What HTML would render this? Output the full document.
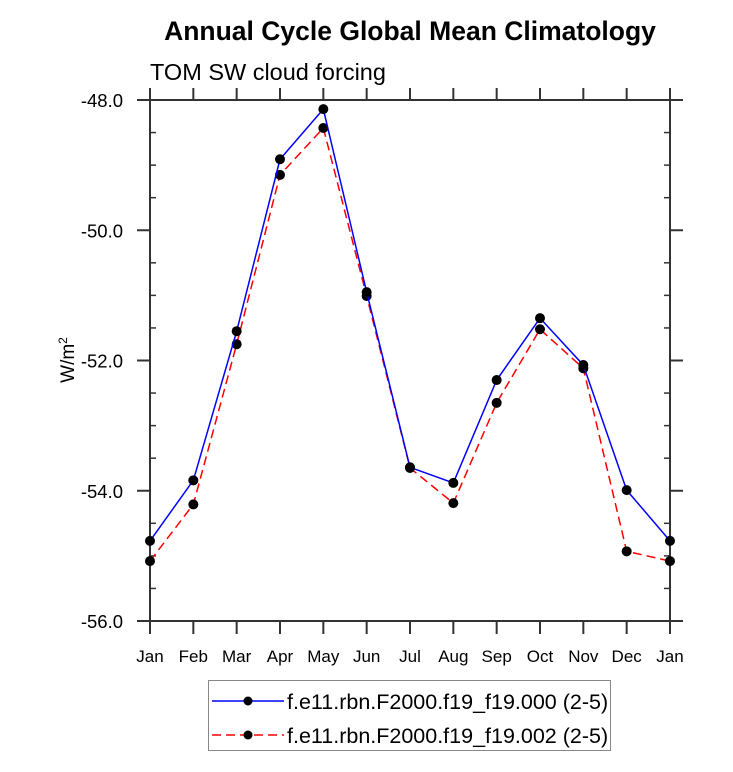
<!DOCTYPE html>
<html><head><meta charset="utf-8"><style>
body{margin:0;background:#fff;}
svg{display:block;font-family:"Liberation Sans",Arial,sans-serif;}
</style></head><body>
<svg id="chart" width="733" height="772" viewBox="0 0 733 772">
<text x="410" y="40" text-anchor="middle" font-size="26.5" font-weight="bold">Annual Cycle Global Mean Climatology</text>
<text x="150" y="80" font-size="23.5">TOM SW cloud forcing</text>
<text transform="translate(74,360) rotate(-90)" text-anchor="middle" font-size="19">W/m<tspan dy="-7" font-size="12">2</tspan></text>
<g id="axes"></g>
<g id="series"></g>
<g>
<rect x="208.5" y="680.5" width="402" height="70" fill="#fff" stroke="#888" stroke-width="1"/>
<g>
<line x1="212" y1="701" x2="284" y2="701" stroke="#0000ff" stroke-width="1.5"/>
<circle cx="248" cy="701" r="4.5" fill="#000"/>
<text x="287" y="709" font-size="21.5">f.e11.rbn.F2000.f19_f19.000 (2-5)</text>
</g>
<g>
<line x1="212" y1="735" x2="284" y2="735" stroke="#ff0000" stroke-width="1.5" stroke-dasharray="9,5"/>
<circle cx="248" cy="735" r="4.5" fill="#000"/>
<text x="287" y="743" font-size="21.5">f.e11.rbn.F2000.f19_f19.002 (2-5)</text>
</g>
</g>
</svg>
<script>
const months=["Jan","Feb","Mar","Apr","May","Jun","Jul","Aug","Sep","Oct","Nov","Dec","Jan"];
const series000=[-54.77,-53.84,-51.55,-48.91,-48.14,-50.95,-53.64,-53.88,-52.30,-51.35,-52.07,-53.99,-54.77];
const series002=[-55.08,-54.21,-51.75,-49.15,-48.43,-51.01,-53.65,-54.19,-52.65,-51.52,-52.12,-54.93,-55.08];
const yTicks=[-48,-50,-52,-54,-56];
const yTickLabels=["-48.0","-50.0","-52.0","-54.0","-56.0"];
const yMin=-56,yMax=-48;
const L=150,R=670,T=100,B=621;
const NS="http://www.w3.org/2000/svg";
function x(i){return L+(R-L)*i/(months.length-1);}
function y(v){return B-(v-yMin)/(yMax-yMin)*(B-T);}
function mk(tag,attrs,parent){const e=document.createElementNS(NS,tag);for(const k in attrs)e.setAttribute(k,attrs[k]);parent.appendChild(e);return e;}
const ax=document.getElementById('axes');
const fr=mk('rect',{x:L,y:T,width:R-L,height:B-T,fill:'none',stroke:'#333','stroke-width':2},ax);


months.forEach((m,i)=>{
  const t1=mk('line',{x1:x(i),y1:B,x2:x(i),y2:B+13,stroke:'#333','stroke-width':2},ax);
  
  
  const t2=mk('line',{x1:x(i),y1:T,x2:x(i),y2:T-12,stroke:'#333','stroke-width':2},ax);
  
  
  const tx=mk('text',{x:x(i),y:B+41,'text-anchor':'middle','font-size':17},ax);
  tx.textContent=m;
  
  
});
for(let v=yMin;v<=yMax+1e-9;v+=0.5){
  const major=Math.abs(v-Math.round(v/2)*2)<1e-9;
  if(major)continue;
  const a=mk('line',{x1:L,y1:y(v),x2:L+6,y2:y(v),stroke:'#333','stroke-width':1.5},ax);
  
  
  const b=mk('line',{x1:R,y1:y(v),x2:R-6,y2:y(v),stroke:'#333','stroke-width':1.5},ax);
  
  
}
yTicks.forEach((v,i)=>{
  const a=mk('line',{x1:L-13,y1:y(v),x2:L,y2:y(v),stroke:'#333','stroke-width':2},ax);
  
  
  const b=mk('line',{x1:R,y1:y(v),x2:R+13,y2:y(v),stroke:'#333','stroke-width':2},ax);
  
  
  const t=mk('text',{x:L-27,y:y(v)+7,'text-anchor':'end','font-size':18.5},ax);
  t.textContent=yTickLabels[i];
  
  
});
const sg=document.getElementById('series');
function draw(vals,color,dash,name){
  const g=mk('g',{},sg);
  
  
  const p=mk('polyline',{points:vals.map((v,i)=>x(i)+','+y(v)).join(' '),fill:'none',stroke:color,'stroke-width':1.5},g);
  if(dash)p.setAttribute('stroke-dasharray',dash);
  
  
  vals.forEach((v,i)=>{
    const c=mk('circle',{cx:x(i),cy:y(v),r:5,fill:'#000'},g);
    
    
  });
}
draw(series002,'#ff0000','9,5','series-002');
draw(series000,'#0000ff',null,'series-000');
</script>
</body></html>
